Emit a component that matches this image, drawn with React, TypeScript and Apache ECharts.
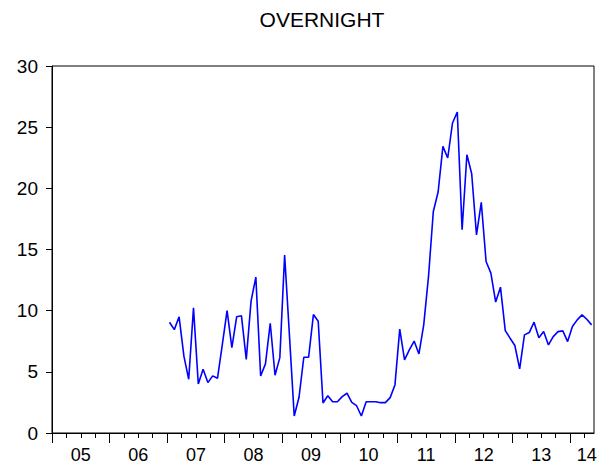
import React, { useEffect, useRef } from 'react';
import * as echarts from 'echarts';

const chartTitle = 'OVERNIGHT';
const firstYear = 2005;
const lastYear = 2014;
const lastMonthOfLastYear = 5; // May 2014
const seriesStartYear = 2007;
const seriesStartMonth = 1;
const yearLabels = ['05', '06', '07', '08', '09', '10', '11', '12', '13', '14'];

// Monthly observations, 2007M01 .. 2014M05
const overnight = [
  9.05, 8.45, 9.5, 6.28, 4.39, 10.23, 4.01, 5.21, 4.12, 4.67,
  4.47, 7.2, 10.01, 6.98, 9.5, 9.58, 6.02, 10.78, 12.74, 4.66,
  5.65, 8.97, 4.72, 6.16, 14.55, 8.0, 1.39, 2.92, 6.19, 6.19,
  9.68, 9.14, 2.45, 3.05, 2.56, 2.56, 2.97, 3.25, 2.51, 2.23,
  1.39, 2.56, 2.56, 2.56, 2.48, 2.48, 2.89, 3.93, 8.49, 5.97,
  6.79, 7.52, 6.46, 8.84, 12.8, 18.11, 19.7, 23.43, 22.48, 25.34,
  26.24, 16.61, 22.75, 21.19, 16.2, 18.85, 14.02, 13.07, 10.7, 11.92,
  8.37, 7.75, 7.15, 5.24, 8.02, 8.21, 9.06, 7.78, 8.29, 7.2,
  7.88, 8.29, 8.35, 7.47, 8.7, 9.25, 9.66, 9.3, 8.84,
];

const FONT = '"Liberation Sans", Arial, sans-serif';

export default function App() {
  const ref = useRef<HTMLDivElement>(null);

  useEffect(() => {
    if (!ref.current) return;
    const chart = echarts.init(ref.current, null, { renderer: 'svg' });

    const totalMonths = (lastYear - firstYear) * 12 + lastMonthOfLastYear;
    const startIdx = (seriesStartYear - firstYear) * 12 + (seriesStartMonth - 1);
    const data = overnight.map((v, i) => [startIdx + i + 0.5, v]);

    const minorTicks: number[] = [];
    for (let m = 0; m < totalMonths; m += 3) minorTicks.push(m);
    const majorTicks: number[] = [];
    for (let m = 0; m < totalMonths; m += 12) majorTicks.push(m);
    const labelPos: number[] = [];
    const labelMap: Record<string, string> = {};
    yearLabels.forEach((lab, i) => {
      const start = i * 12;
      const end = Math.min(start + 12, totalMonths);
      const pos = i === yearLabels.length - 1 ? end - 1.5 : (start + end) / 2;
      labelPos.push(pos);
      labelMap[String(pos)] = lab;
    });

    const baseX = {
      type: 'value' as const,
      min: 0,
      max: totalMonths,
      position: 'bottom' as const,
      splitLine: { show: false },
    };

    chart.setOption({
      animation: false,
      backgroundColor: '#ffffff',
      graphic: [
        {
          type: 'text',
          x: 322,
          y: 9,
          style: {
            text: chartTitle,
            fill: '#000',
            font: `21px ${FONT}`,
            align: 'center',
            verticalAlign: 'top',
          },
        },
      ],
      grid: {
        left: 52,
        right: 19,
        top: 66,
        bottom: 41,
        show: true,
        borderColor: '#000',
        borderWidth: 1,
        backgroundColor: 'transparent',
      },
      xAxis: [
        {
          ...baseX,
          axisLine: { show: true, lineStyle: { color: '#000', width: 1 } },
          axisTick: { show: true, customValues: minorTicks, length: 5, lineStyle: { color: '#000' } },
          axisLabel: { show: false },
        },
        {
          ...baseX,
          axisLine: { show: false },
          axisTick: { show: true, customValues: majorTicks, length: 10, lineStyle: { color: '#000' } },
          axisLabel: { show: false },
        },
        {
          ...baseX,
          axisLine: { show: false },
          axisTick: { show: false },
          axisLabel: {
            show: true,
            customValues: labelPos,
            formatter: (v: number) => labelMap[String(v)] ?? '',
            color: '#000',
            fontSize: 18,
            fontFamily: FONT,
            margin: 13,
          },
        },
      ],
      yAxis: {
        type: 'value',
        min: 0,
        max: 30,
        interval: 5,
        axisLine: { show: true, lineStyle: { color: '#000', width: 1 } },
        axisTick: { show: true, length: 6, lineStyle: { color: '#000' } },
        axisLabel: { color: '#000', fontSize: 19, fontFamily: FONT, margin: 14 },
        splitLine: { show: false },
      },
      series: [
        {
          type: 'line',
          xAxisIndex: 0,
          data,
          showSymbol: false,
          lineStyle: { color: '#0000ff', width: 1.6 },
          itemStyle: { color: '#0000ff' },
        },
      ],
    });

    return () => chart.dispose();
  }, []);

  return (
    <div
      ref={ref}
      style={{ position: 'absolute', left: 0, top: 0, width: 613, height: 474, background: '#fff' }}
    />
  );
}
